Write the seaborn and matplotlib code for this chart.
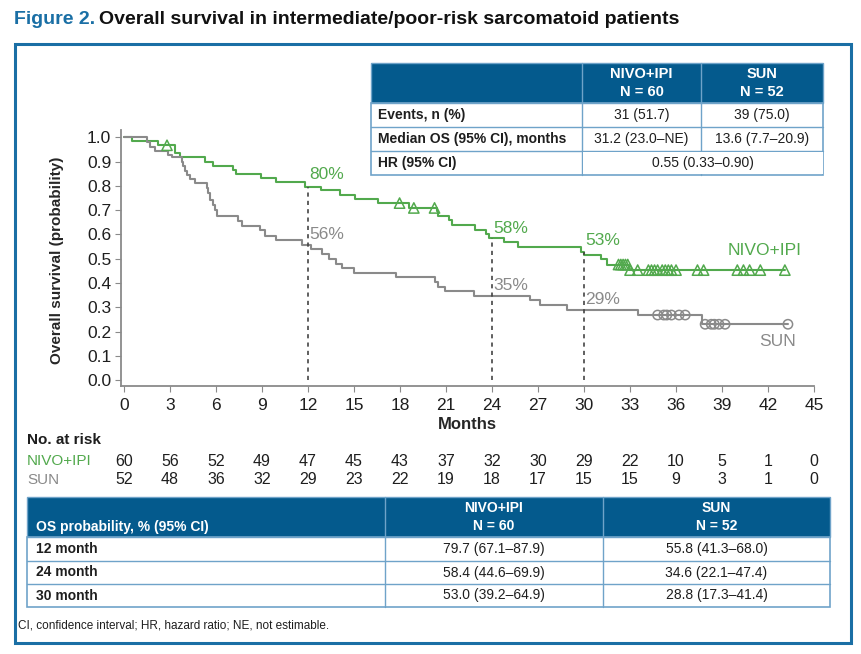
import numpy as np
import pandas as pd
import matplotlib
matplotlib.use("Agg")
import matplotlib.pyplot as plt
import matplotlib.transforms as mtransforms
from matplotlib.patches import Rectangle
import seaborn as sns

# data
nivo_t = [0, 0.5, 2.2, 3.3, 3.65, 5.27, 5.82, 7.1, 7.3, 8.96, 9.94, 11.8, 12.87, 14.06, 15.04,
          16.56, 18.6, 20.4, 20.5, 21.2, 21.4, 22.9, 23.6, 23.8, 24.8, 25.7, 29.8, 30.0, 31.1,
          31.5, 32.95, 43.1]
nivo_s = [1.0, 0.983, 0.967, 0.935, 0.918, 0.90, 0.883, 0.866, 0.848, 0.834, 0.815, 0.797, 0.781,
          0.763, 0.747, 0.729, 0.709, 0.695, 0.677, 0.658, 0.640, 0.620, 0.602, 0.585, 0.567,
          0.547, 0.528, 0.517, 0.497, 0.476, 0.453, 0.453]
nivo_cens = [2.8, 17.97, 18.9, 20.25, 32.25, 32.4, 32.55, 32.7, 32.85, 33.0, 33.5, 34.2, 34.4,
             34.6, 34.8, 35.1, 35.3, 35.5, 35.7, 36.0, 37.4, 37.8, 40.0, 40.4, 40.8, 41.5, 43.1]

sun_t = [0, 1.48, 1.7, 2.0, 2.88, 3.1, 3.75, 3.85, 3.95, 4.1, 4.3, 4.6, 5.38, 5.5, 5.6, 5.8, 5.9,
         6.03, 7.44, 7.66, 8.85, 9.18, 9.94, 11.63, 12.22, 12.93, 13.37, 13.8, 14.24, 15.0, 17.75,
         20.25, 20.5, 20.9, 22.85, 26.5, 27.1, 28.9, 33.55, 37.67, 43.3]
sun_s = [1.0, 0.981, 0.962, 0.942, 0.927, 0.918, 0.90, 0.88, 0.862, 0.845, 0.827, 0.811, 0.791,
         0.772, 0.743, 0.722, 0.702, 0.674, 0.654, 0.636, 0.617, 0.595, 0.576, 0.558, 0.540,
         0.521, 0.499, 0.48, 0.462, 0.442, 0.424, 0.403, 0.384, 0.366, 0.346, 0.328, 0.308,
         0.288, 0.268, 0.230, 0.230]
sun_cens = [34.8, 35.2, 35.4, 35.7, 36.2, 36.6, 37.9, 38.3, 38.5, 38.8, 39.2, 43.3]

landmarks = [12, 24, 30]
nivo_lm = [0.80, 0.58, 0.53]
sun_lm = [0.56, 0.35, 0.29]
nivo_lm_line = [0.797, 0.585, 0.528]

risk_months = [0, 3, 6, 9, 12, 15, 18, 21, 24, 27, 30, 33, 36, 39, 42, 45]
nivo_risk = [60, 56, 52, 49, 47, 45, 43, 37, 32, 30, 29, 22, 10, 5, 1, 0]
sun_risk = [52, 48, 36, 32, 29, 23, 22, 19, 18, 17, 15, 15, 9, 3, 1, 0]

top_rows = ["Events, n (%)", "Median OS (95% CI), months", "HR (95% CI)"]
top_nivo = ["31 (51.7)", "31.2 (23.0\u2013NE)"]
top_sun = ["39 (75.0)", "13.6 (7.7\u201320.9)"]
top_hr = "0.55 (0.33\u20130.90)"

os_rows = ["12 month", "24 month", "30 month"]
os_nivo = ["79.7 (67.1\u201387.9)", "58.4 (44.6\u201369.9)", "53.0 (39.2\u201364.9)"]
os_sun = ["55.8 (41.3\u201368.0)", "34.6 (22.1\u201347.4)", "28.8 (17.3\u201341.4)"]

GREEN = "#52a94d"
GRAY = "#8a8a8a"
BLUE = "#1a6fa5"
HEAD = "#045a8d"
EDGE = "#6fa3c9"
TXT = "#1e1e1e"

sns.set_style("white")
plt.rcParams['font.family'] = ['Liberation Sans', 'DejaVu Sans']

W, H = 862, 654
fig = plt.figure(figsize=(W / 100, H / 100), dpi=100)


def fx(px):
    return px / W


def fy(py):
    return 1 - py / H


# title + frame
t1 = fig.text(fx(14), fy(20), "Figure 2.", color=BLUE, fontsize=14, fontweight='bold', va='center')
fig.add_artist(matplotlib.text.Annotation(
    "Overall survival in intermediate/poor-risk sarcomatoid patients", xy=(1, 0.5), xycoords=t1,
    xytext=(3, 0), textcoords="offset points", va="center", ha="left",
    color="#111111", fontsize=14, fontweight='bold'))
fig.patches.append(Rectangle((fx(15), fy(643)), fx(851) - fx(15), fy(44) - fy(643),
                             transform=fig.transFigure, fill=False, ec=BLUE, lw=2.2))

# KM plot
ax = fig.add_axes([fx(121), fy(385.7), fx(814) - fx(121), fy(130) - fy(385.7)])
km = pd.concat([
    pd.DataFrame({"month": nivo_t, "surv": nivo_s, "arm": "NIVO+IPI"}),
    pd.DataFrame({"month": sun_t, "surv": sun_s, "arm": "SUN"}),
])
sns.lineplot(data=km, x="month", y="surv", hue="arm", palette={"NIVO+IPI": GREEN, "SUN": GRAY},
             estimator=None, sort=False, drawstyle="steps-post", lw=1.5, legend=False, ax=ax)


def at(times, survs, t):
    i = np.searchsorted(times, t, side="right") - 1
    return survs[i]


nivo_cy = [at(nivo_t, nivo_s, t) for t in nivo_cens]
sun_cy = [at(sun_t, sun_s, t) for t in sun_cens]
sns.scatterplot(x=nivo_cens, y=nivo_cy, marker="^", s=55, color=GREEN, facecolor="none",
                edgecolor=GREEN, linewidth=1.1, ax=ax, zorder=3)
sns.scatterplot(x=sun_cens, y=sun_cy, marker="o", s=45, color=GRAY, facecolor="none",
                edgecolor=GRAY, linewidth=1.1, ax=ax, zorder=3)

ax.vlines(landmarks, 0, nivo_lm_line, colors="#444444", linestyles=(0, (2.5, 2.5)), lw=1.2)
for m, g, s in zip(landmarks, nivo_lm, sun_lm):
    ax.text(m + 0.1, g + 0.045, f"{g:.0%}", color=GREEN, fontsize=12.5, va="center")
    ax.text(m + 0.1, s + 0.04, f"{s:.0%}", color=GRAY, fontsize=12.5, va="center")
ax.text(44.2, 0.535, "NIVO+IPI", color=GREEN, fontsize=12.5, ha="right", va="center")
ax.text(43.8, 0.16, "SUN", color=GRAY, fontsize=12.5, ha="right", va="center")

ax.set_xlim(-0.2, 45)
ax.set_ylim(-0.023, 1.03)
ax.set_xticks(risk_months)
ax.set_yticks(np.arange(0, 1.01, 0.1))
ax.set_yticklabels([f"{v:.1f}" for v in np.arange(0, 1.01, 0.1)])
ax.tick_params(labelsize=12.5, length=4, color=GRAY, labelcolor=TXT, pad=3)
ax.tick_params(axis="x", pad=5)
ax.tick_params(axis="both", which="both", bottom=True, left=True)
for side in ["top", "right"]:
    ax.spines[side].set_visible(False)
for side in ["left", "bottom"]:
    ax.spines[side].set_color(GRAY)
    ax.spines[side].set_linewidth(1.3)
ax.set_xlabel("Months", fontsize=12, fontweight="bold")
ax.set_ylabel("Overall survival (probability)", fontsize=11, fontweight="bold")
ax.xaxis.set_label_coords(0.5, -0.124)
ax.yaxis.set_label_coords(-0.082, 0.49)

# number at risk
tr = mtransforms.blended_transform_factory(ax.transData, fig.transFigure)
fig.text(fx(27), fy(440), "No. at risk", fontsize=11, fontweight="bold", va="center", color=TXT)
fig.text(fx(27), fy(461), "NIVO+IPI", fontsize=11, color=GREEN, va="center")
fig.text(fx(27), fy(480), "SUN", fontsize=11, color=GRAY, va="center")
for m, a, b in zip(risk_months, nivo_risk, sun_risk):
    ax.text(m, fy(461), str(a), transform=tr, fontsize=11.5, ha="center", va="center", color=TXT)
    ax.text(m, fy(480), str(b), transform=tr, fontsize=11.5, ha="center", va="center", color=TXT)


def table(cols, rows):
    x0, x1 = cols[0], cols[-1]
    fig.patches.append(Rectangle((fx(x0), fy(rows[1])), fx(x1) - fx(x0), fy(rows[0]) - fy(rows[1]),
                                 transform=fig.transFigure, fc=HEAD, ec=EDGE, lw=1))
    fig.patches.append(Rectangle((fx(x0), fy(rows[-1])), fx(x1) - fx(x0), fy(rows[1]) - fy(rows[-1]),
                                 transform=fig.transFigure, fill=False, ec=EDGE, lw=1.2))
    for r in rows[2:-1]:
        fig.add_artist(plt.Line2D([fx(x0), fx(x1)], [fy(r), fy(r)], color=EDGE, lw=1))
    for c in cols[1:-1]:
        fig.add_artist(plt.Line2D([fx(c), fx(c)], [fy(rows[0]), fy(rows[-1])], color=EDGE, lw=1))


FS = 10

# top-right table
tc = [371, 582, 701, 823]
trw = [63, 103, 127, 151, 175]
table(tc, trw)
fig.patches.append(Rectangle((fx(582.6), fy(174)), fx(822.5) - fx(582.6), fy(151.6) - fy(174),
                             transform=fig.transFigure, fc="white", ec="none", zorder=2))
fig.text(fx(641.5), fy(83), "NIVO+IPI\nN = 60", color="white", fontsize=10.5, fontweight="bold",
         ha="center", va="center", linespacing=1.3)
fig.text(fx(762), fy(83), "SUN\nN = 52", color="white", fontsize=10.5, fontweight="bold",
         ha="center", va="center", linespacing=1.3)
for i, lab in enumerate(top_rows):
    yc = (trw[i + 1] + trw[i + 2]) / 2
    fig.text(fx(378), fy(yc), lab, fontsize=FS, fontweight="bold", va="center", color=TXT)
    if i < 2:
        fig.text(fx(641.5), fy(yc), top_nivo[i], fontsize=FS, ha="center", va="center", color=TXT)
        fig.text(fx(762), fy(yc), top_sun[i], fontsize=FS, ha="center", va="center", color=TXT)
    else:
        fig.text(fx(702.5), fy(yc), top_hr, fontsize=FS, ha="center", va="center", color=TXT,
                 zorder=4)

# bottom table
bc = [27, 385, 603, 830]
brw = [497, 537, 561, 584, 607]
table(bc, brw)
fig.text(fx(36), fy(527), "OS probability, % (95% CI)", color="white", fontsize=FS,
         fontweight="bold", va="center")
fig.text(fx(494), fy(517), "NIVO+IPI\nN = 60", color="white", fontsize=FS, fontweight="bold",
         ha="center", va="center", linespacing=1.35)
fig.text(fx(716.5), fy(517), "SUN\nN = 52", color="white", fontsize=FS, fontweight="bold",
         ha="center", va="center", linespacing=1.35)
for i, lab in enumerate(os_rows):
    yc = (brw[i + 1] + brw[i + 2]) / 2
    fig.text(fx(36), fy(yc), lab, fontsize=FS, fontweight="bold", va="center", color=TXT)
    fig.text(fx(494), fy(yc), os_nivo[i], fontsize=FS, ha="center", va="center", color=TXT)
    fig.text(fx(716.5), fy(yc), os_sun[i], fontsize=FS, ha="center", va="center", color=TXT)

fig.text(fx(18), fy(625), "CI, confidence interval; HR, hazard ratio; NE, not estimable.",
         fontsize=8.5, va="center", color=TXT)

fig.savefig("out.png", dpi=100)
